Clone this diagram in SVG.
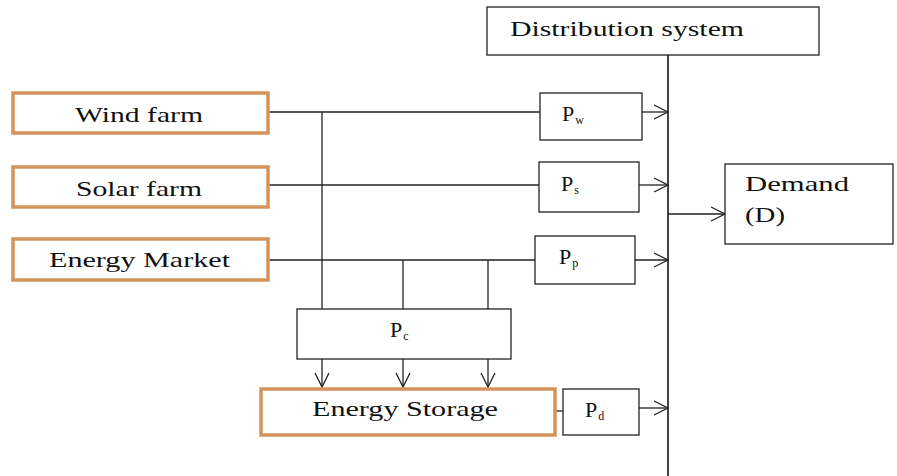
<svg xmlns="http://www.w3.org/2000/svg" width="897" height="476" viewBox="0 0 897 476">
<defs>
<marker id="ah" markerUnits="userSpaceOnUse" markerWidth="20" markerHeight="20" refX="16" refY="10" orient="auto">
<path d="M2,3 L16,10 L2,17" fill="none" stroke="#222" stroke-width="1.3"/>
</marker>
<style>
.src{fill:#fff;stroke:#d4935a;stroke-width:3.5}
.box{fill:#fff;stroke:#222;stroke-width:1.3}
.ln{fill:none;stroke:#222;stroke-width:1.3}
.bus{fill:none;stroke:#444;stroke-width:2}
text{font-family:'Liberation Serif','DejaVu Serif','Times New Roman',serif}
</style>
</defs>
<rect width="897" height="476" fill="#fff"/>
<g id="connectors">
<line class="bus" x1="668" y1="55" x2="668" y2="476"/>
<line class="ln" x1="268" y1="112" x2="540" y2="112"/>
<line class="ln" x1="268" y1="185" x2="539" y2="185"/>
<line class="ln" x1="268" y1="260" x2="535" y2="260"/>
<line class="ln" x1="322" y1="112" x2="322" y2="309"/>
<line class="ln" x1="403" y1="260" x2="403" y2="309"/>
<line class="ln" x1="488" y1="260" x2="488" y2="309"/>
<line class="ln" x1="322" y1="359" x2="322" y2="387" marker-end="url(#ah)"/>
<line class="ln" x1="403" y1="359" x2="403" y2="387" marker-end="url(#ah)"/>
<line class="ln" x1="488" y1="359" x2="488" y2="387" marker-end="url(#ah)"/>
<line class="ln" x1="642" y1="112" x2="668" y2="112" marker-end="url(#ah)"/>
<line class="ln" x1="639" y1="185" x2="668" y2="185" marker-end="url(#ah)"/>
<line class="ln" x1="635" y1="260" x2="668" y2="260" marker-end="url(#ah)"/>
<line class="ln" x1="639" y1="408" x2="668" y2="408" marker-end="url(#ah)"/>
<line class="ln" x1="668" y1="214" x2="725" y2="214" marker-end="url(#ah)"/>
<line class="ln" x1="555" y1="411" x2="563" y2="411"/>
</g>
<g font-family="'Liberation Serif', 'DejaVu Serif', serif" font-size="21" fill="#111">
<g id="wind">
<rect class="src" x="13" y="93" width="255" height="40"/>
<text x="75" y="122" textLength="128" lengthAdjust="spacingAndGlyphs">Wind farm</text>
</g>
<g id="solar">
<rect class="src" x="13" y="167" width="255" height="40"/>
<text x="76" y="196" textLength="126" lengthAdjust="spacingAndGlyphs">Solar farm</text>
</g>
<g id="market">
<rect class="src" x="13" y="239" width="255" height="41"/>
<text x="49" y="267" textLength="181" lengthAdjust="spacingAndGlyphs">Energy Market</text>
</g>
<g id="storage">
<rect class="src" x="261" y="389" width="294" height="46"/>
<text x="312" y="416" textLength="186" lengthAdjust="spacingAndGlyphs">Energy Storage</text>
</g>
<g id="distribution">
<rect class="box" x="487" y="7" width="332" height="48"/>
<text x="510" y="36" textLength="234" lengthAdjust="spacingAndGlyphs">Distribution system</text>
</g>
<g id="demand">
<rect class="box" x="725" y="164" width="168" height="80"/>
<text x="745" y="191" textLength="104" lengthAdjust="spacingAndGlyphs">Demand</text>
<text x="745" y="222" textLength="40" lengthAdjust="spacingAndGlyphs">(D)</text>
</g>
<g id="pw">
<rect class="box" x="540" y="93" width="102" height="47"/>
<text x="562" y="121" font-size="22">P<tspan font-size="12" dx="1" dy="3">w</tspan></text>
</g>
<g id="ps">
<rect class="box" x="539" y="162" width="100" height="50"/>
<text x="561" y="191" font-size="22">P<tspan font-size="12" dx="1" dy="3">s</tspan></text>
</g>
<g id="pp">
<rect class="box" x="535" y="236" width="100" height="48"/>
<text x="559" y="264" font-size="22">P<tspan font-size="12" dx="1" dy="3">p</tspan></text>
</g>
<g id="pc">
<rect class="box" x="297" y="309" width="214" height="50"/>
<text x="390" y="337" font-size="22">P<tspan font-size="12" dx="1" dy="3">c</tspan></text>
</g>
<g id="pd">
<rect class="box" x="563" y="389" width="76" height="46"/>
<text x="585" y="417" font-size="22">P<tspan font-size="12" dx="1" dy="3">d</tspan></text>
</g>
</g>
</svg>
